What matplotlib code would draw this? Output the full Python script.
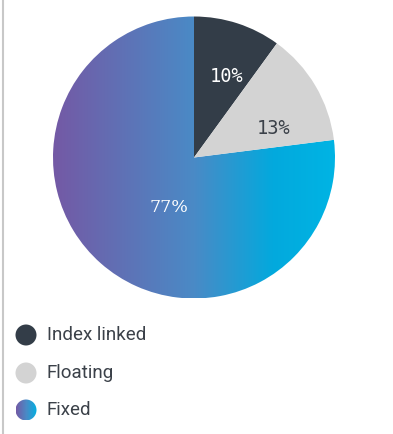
import numpy as np
import matplotlib
matplotlib.use("Agg")
import matplotlib.pyplot as plt
from matplotlib.patches import Circle
from matplotlib.colors import LinearSegmentedColormap

# Debt composition
categories = ["Index linked", "Floating", "Fixed"]
shares = [10, 13, 77]
label_texts = ["10%", "13%", "77%"]
solid_colors = ["#333d48", "#d3d3d3", None]
label_colors = ["#ffffff", "#3b4149", "#ffffff"]

# horizontal gradient used for the "Fixed" share
grad_stops = [(0.0, "#7459a5"), (0.5, "#4a8ac6"), (0.78, "#03a9dd"), (1.0, "#00b4e4")]
grad_cmap = LinearSegmentedColormap.from_list("fixed_grad", grad_stops)

W, H = 393, 434
fig = plt.figure(figsize=(W / 100, H / 100), dpi=100)
ax = fig.add_axes([0, 0, 1, 1])

cx, cy, r = 194, H - 157.5, 141

wedges, _ = ax.pie(shares, colors=[c if c else "none" for c in solid_colors],
                   startangle=90, counterclock=False, center=(cx, cy), radius=r,
                   wedgeprops=dict(linewidth=0))
ax.set_xlim(0, W)
ax.set_ylim(0, H)
ax.set_aspect("equal")
ax.axis("off")

# gradient fill clipped to the Fixed wedge
grad = np.linspace(0, 1, 512).reshape(1, -1)
im = ax.imshow(grad, cmap=grad_cmap, extent=[cx - r, cx + r, cy - r, cy + r],
               aspect="auto", zorder=0.5, interpolation="bilinear")
im.set_clip_path(wedges[2])

# slice labels
label_pos = [(227, 77), (274, 128), (169, 208)]
label_fonts = ["DejaVu Sans Mono", "DejaVu Sans Mono", "DejaVu Serif"]
label_sizes = [13.5, 13.5, 12.5]
for (px, py), txt, col, fam, fs in zip(label_pos, label_texts, label_colors,
                                       label_fonts, label_sizes):
    ax.text(px, H - py, txt, ha="center", va="center", color=col,
            fontsize=fs, family=fam, zorder=3)

# legend
leg_y = [335, 373, 410]
for name, col, ly in zip(categories, solid_colors, leg_y):
    circ = Circle((26, H - ly), 10.5, facecolor=col if col else "none",
                  edgecolor="none", zorder=2)
    ax.add_patch(circ)
    if col is None:
        g = ax.imshow(grad, cmap=LinearSegmentedColormap.from_list(
            "leg_grad", ["#7459a5", "#4a8ac6", "#00b0e2"]),
            extent=[15.5, 36.5, H - ly - 10.5, H - ly + 10.5],
            aspect="auto", zorder=2, interpolation="bilinear")
        g.set_clip_path(circ)
    ax.text(47, H - ly, name, ha="left", va="center", color="#3b4149",
            fontsize=13.5, family="Roboto", zorder=3)

# left frame rule
ax.plot([2.5, 2.5], [0, H], color="#c8c8c8", lw=1.5, solid_capstyle="butt")

ax.set_xlim(0, W)
ax.set_ylim(0, H)
fig.savefig("out.png", dpi=100)
